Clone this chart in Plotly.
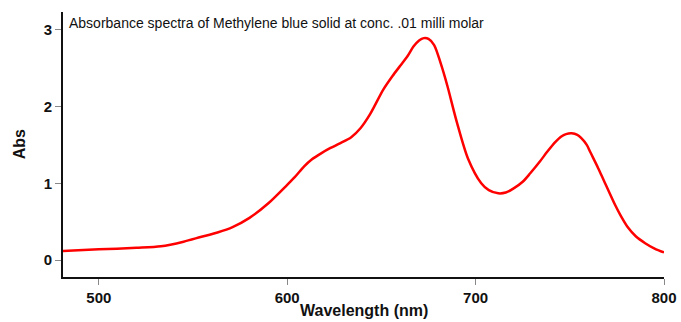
import plotly.graph_objects as go

wavelength = [481, 500, 520, 533, 545, 554, 563, 571, 580, 590, 600, 604, 609, 613, 618, 623,
              628, 634, 639, 644, 651, 656, 660, 664, 667, 670, 672.5, 675, 678, 681.5, 685, 690,
              696, 703, 707, 712, 716, 720, 725, 729, 734, 738, 742, 745.5, 748, 751, 754, 756,
              759, 761, 765, 768, 774, 777, 781, 785, 790, 795, 800]
absorbance = [0.12, 0.14, 0.16, 0.18, 0.24, 0.30, 0.36, 0.43, 0.55, 0.74, 0.98, 1.08, 1.22, 1.31, 1.39, 1.46,
              1.52, 1.60, 1.72, 1.90, 2.22, 2.40, 2.53, 2.66, 2.78, 2.86, 2.89, 2.88, 2.80, 2.56, 2.27, 1.80,
              1.32, 1.00, 0.91, 0.87, 0.88, 0.93, 1.02, 1.13, 1.28, 1.41, 1.53, 1.61, 1.64, 1.65, 1.63, 1.59,
              1.50, 1.40, 1.20, 1.04, 0.72, 0.58, 0.42, 0.31, 0.22, 0.15, 0.10]

x_ticks = [500, 600, 700, 800]
y_ticks = [0, 1, 2, 3]

title_text = "Absorbance spectra of Methylene blue solid at conc. .01 milli molar"
x_title = "Wavelength (nm)"
y_title = "Abs"

fig = go.Figure()
fig.add_trace(go.Scatter(x=wavelength, y=absorbance, mode="lines",
                         line=dict(color="#ff0000", width=2.5, shape="spline", smoothing=0.8),
                         showlegend=False))

axis_font = dict(family="Arial, Liberation Sans", size=15, color="#111111")
fig.update_layout(
    width=681, height=322,
    margin=dict(l=63, r=17, t=12, b=45),
    paper_bgcolor="white", plot_bgcolor="white",
    xaxis=dict(range=[481, 800], tickvals=x_ticks, ticktext=["<b>%d</b>" % v for v in x_ticks],
               showgrid=False, zeroline=False, showline=True, linecolor="#111111", linewidth=2,
               ticks="outside", ticklen=6, tickwidth=1, tickcolor="#888888",
               tickfont=axis_font, automargin=False),
    yaxis=dict(range=[-0.22, 3.23], tickvals=y_ticks, ticktext=["<b>%d</b>" % v for v in y_ticks],
               showgrid=False, zeroline=False, showline=True, linecolor="#111111", linewidth=2,
               ticks="outside", ticklen=6, tickwidth=1, tickcolor="#888888",
               tickfont=axis_font, automargin=False),
    annotations=[
        dict(text=title_text, xref="paper", yref="paper", x=0.006, y=0.958,
             xanchor="left", yanchor="middle", showarrow=False,
             font=dict(family="Arial, Liberation Sans", size=14, color="#111111")),
        dict(text="<b>%s</b>" % x_title, xref="paper", yref="paper", x=0.5, y=-0.128,
             xanchor="center", yanchor="middle", showarrow=False,
             font=dict(family="Arial, Liberation Sans", size=16, color="#111111")),
        dict(text="<b>%s</b>" % y_title, xref="paper", yref="paper", x=-0.072, y=0.5,
             xanchor="center", yanchor="middle", showarrow=False, textangle=-90,
             font=dict(family="Arial, Liberation Sans", size=16, color="#111111")),
    ],
)

fig.write_html("out.html")
